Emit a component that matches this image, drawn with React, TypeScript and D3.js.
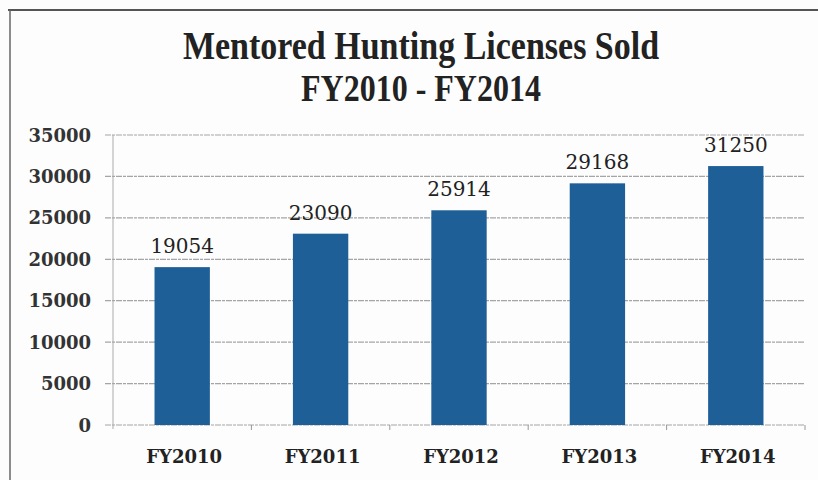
import React from "react";
import * as d3 from "d3";

const categories = ["FY2010", "FY2011", "FY2012", "FY2013", "FY2014"];
const values = [19054, 23090, 25914, 29168, 31250];
const yTicks = [0, 5000, 10000, 15000, 20000, 25000, 30000, 35000];
const titleLines = ["Mentored Hunting Licenses Sold", "FY2010 - FY2014"];

const W = 818;
const H = 480;
const left = 113;
const right = 805;
const top = 135;
const bottom = 425;
const titleFont = "'Liberation Serif', 'DejaVu Serif', serif";
const numFont = "'DejaVu Serif', 'Liberation Serif', serif";

export default function App() {
  const x = d3.scaleBand<string>().domain(categories).range([left, right]).paddingInner(0.6).paddingOuter(0.3);
  const y = d3.scaleLinear().domain([0, 35000]).range([bottom, top]);
  const step = x.step();
  return (
    <svg width={W} height={H} style={{ position: "absolute", left: 0, top: 0, background: "#fff" }}>
      <rect x={0} y={0} width={W} height={H} fill="#fdfdfd" />
      <line x1={8} x2={W} y1={10} y2={10} stroke="#555" strokeWidth={2} />
      <line x1={10} x2={10} y1={10} y2={H} stroke="#666" strokeWidth={1.5} />
      {titleLines.map((t, i) => (
        <text
          key={t}
          x={0}
          y={0}
          transform={`translate(421, ${59 + i * 42}) scale(1, 1.18)`}
          textAnchor="middle"
          fontFamily={titleFont}
          fontWeight="bold"
          fontSize={i === 0 ? 34 : 32}
          fill="#222"
        >
          {t}
        </text>
      ))}
      {yTicks.map((t) => (
        <g key={t}>
          <line x1={left - 8} x2={right} y1={y(t)} y2={y(t)} stroke="#a5a5a5" strokeWidth={1.2} strokeDasharray="6 1 3 1" />
          <text x={91} y={y(t) + 6.5} textAnchor="end" fontFamily={numFont} fontWeight="bold" fontSize={18} fill="#333">
            {t}
          </text>
        </g>
      ))}
      <line x1={left} x2={left} y1={top} y2={bottom + 4} stroke="#aaa" strokeWidth={1} />
      {categories.map((c, i) => (
        <line key={"tk" + c} x1={left + step * (i + 1)} x2={left + step * (i + 1)} y1={bottom} y2={bottom + 5} stroke="#999" strokeWidth={1} />
      ))}
      {categories.map((c, i) => (
        <g key={c}>
          <rect x={x(c)} y={y(values[i])} width={x.bandwidth()} height={bottom - y(values[i])} fill="#1f5f98" />
          <text x={(x(c) as number) + x.bandwidth() / 2} y={y(values[i]) - 14} textAnchor="middle" fontFamily={numFont} fontSize={20} fill="#222">
            {values[i]}
          </text>
          <text x={(x(c) as number) + x.bandwidth() / 2 + 2} y={463} textAnchor="middle" fontFamily={numFont} fontWeight="bold" fontSize={18} fill="#222">
            {c}
          </text>
        </g>
      ))}
    </svg>
  );
}
